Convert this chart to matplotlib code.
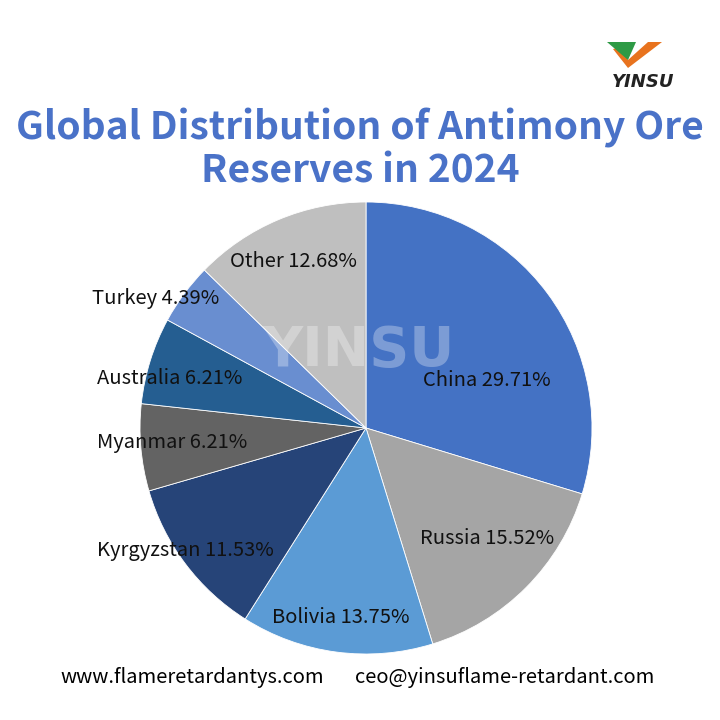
import matplotlib.pyplot as plt
from matplotlib.patches import Polygon

countries = ['China', 'Russia', 'Bolivia', 'Kyrgyzstan', 'Myanmar', 'Australia', 'Turkey', 'Other']
shares = [29.71, 15.52, 13.75, 11.53, 6.21, 6.21, 4.39, 12.68]
colors = ['#4472C4', '#A5A5A5', '#5B9BD5', '#264478', '#636363', '#255E91', '#698ED0', '#BFBFBF']

# label centres, in pie radius units (Excel "best fit" style placement)
label_pos = [(0.535, 0.21), (0.535, -0.487), (-0.11, -0.84), (-0.80, -0.54),
             (-0.858, -0.062), (-0.867, 0.217), (-0.93, 0.575), (-0.32, 0.735)]

plt.rcParams['font.family'] = ['Noto Sans CJK SC', 'DejaVu Sans']

fig = plt.figure(figsize=(7.2, 7.2), dpi=100)
fig.patch.set_facecolor('white')

# pie: centre (366, 428) px from top-left, radius 226 px
cx, cy, r = 366, 720 - 428, 226
ax = fig.add_axes([(cx - r) / 720, (cy - r) / 720, 2 * r / 720, 2 * r / 720])
ax.pie(shares, colors=colors, startangle=90, counterclock=False,
       wedgeprops=dict(edgecolor='white', linewidth=0.6))
ax.set_xlim(-1, 1)
ax.set_ylim(-1, 1)
ax.set_aspect('equal')
ax.axis('off')

for name, val, (lx, ly) in zip(countries, shares, label_pos):
    ax.text(lx, ly, f'{name} {val:.2f}%', ha='center', va='center',
            fontsize=14.5, color='#111111')

# watermark
ax.text(-0.03, 0.34, 'YINSU', ha='center', va='center', fontsize=40,
        fontweight='bold', color='white', alpha=0.3, family='DejaVu Sans')

# title
fig.text(0.5, 1 - 128 / 720, 'Global Distribution of Antimony Ore', ha='center', va='center',
         fontsize=28, fontweight='bold', color='#4A72C8')
fig.text(0.5, 1 - 171 / 720, 'Reserves in 2024', ha='center', va='center',
         fontsize=28, fontweight='bold', color='#4A72C8')

# footer
fig.text(60 / 720, 1 - 678 / 720, 'www.flameretardantys.com', ha='left', va='center',
         fontsize=14.5, color='black')
fig.text(355 / 720, 1 - 678 / 720, 'ceo@yinsuflame-retardant.com', ha='left', va='center',
         fontsize=14.5, color='black')

# logo
def px(pts):
    return [(x / 720, 1 - y / 720) for x, y in pts]

fig.patches.append(Polygon(px([(613, 49), (621, 47), (628, 60), (648, 42), (662, 42), (628, 68)]),
                           closed=True, facecolor='#E8731E', edgecolor='none',
                           transform=fig.transFigure, figure=fig))
fig.patches.append(Polygon(px([(607, 42), (636, 42), (628, 60)]),
                           closed=True, facecolor='#2E9A45', edgecolor='none',
                           transform=fig.transFigure, figure=fig))
fig.text(643 / 720, 1 - 82 / 720, 'YINSU', ha='center', va='center', fontsize=13,
         fontweight='bold', style='italic', color='#222222', family='DejaVu Sans')

fig.savefig('out.png', dpi=100)
